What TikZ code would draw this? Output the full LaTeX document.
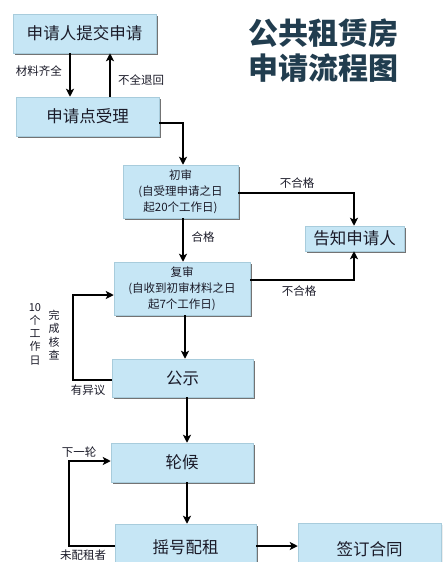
\documentclass[tikz,border=0pt]{standalone}
\usepackage{fontspec}
\setmainfont{Noto Sans CJK SC}
\usetikzlibrary{arrows.meta,shadows}
\definecolor{boxfill}{HTML}{C6E6F5}
\definecolor{boxedge}{HTML}{A8CCDC}
\definecolor{txt}{HTML}{1A1A28}
\definecolor{ttl}{HTML}{213D4F}
\begin{document}
\begin{tikzpicture}[x=1pt,y=1pt,
  box/.style={fill=boxfill,draw=boxedge,line width=0.5pt,inner sep=0pt,align=center,text=txt,
    drop shadow={shadow xshift=1.6pt,shadow yshift=-1.6pt,fill=black!55,opacity=1}},
  big/.style={font=\fontsize{16.5}{18}\selectfont},
  small/.style={font=\fontsize{11.5}{16}\selectfont},
  lab/.style={font=\fontsize{11.5}{13}\selectfont,text=txt,inner sep=0pt},
  arr/.style={line width=1.8pt,-{Stealth[length=8pt,width=8pt,inset=2pt]}}]
\useasboundingbox (0,0) rectangle (442,-562);
\clip (0,0) rectangle (442,-562);
\fill[white] (0,0) rectangle (442,-562);
% title
\node[font=\fontsize{30}{35}\selectfont\bfseries,text=ttl,align=center,inner sep=0pt] (title) at (323,-51) {公共租赁房\\申请流程图};
% boxes
\node[box,big,minimum width=143pt,minimum height=39pt] (b1) at (84.5,-33.5) {申请人提交申请};
\node[box,big,minimum width=143pt,minimum height=39pt] (b2) at (87.5,-116.5) {申请点受理};
\node[box,small,minimum width=115pt,minimum height=53pt] (b3) at (180.5,-191.5) {初审\\(自受理申请之日\\起20个工作日)};
\node[box,big,minimum width=99pt,minimum height=25pt] (b6) at (354.5,-238.5) {告知申请人};
\node[box,small,minimum width=136pt,minimum height=53pt] (b4) at (182,-288.5) {复审\\(自收到初审材料之日\\起7个工作日)};
\node[box,big,minimum width=141pt,minimum height=38pt] (b5) at (182.5,-378) {公示};
\node[box,big,minimum width=142pt,minimum height=39pt] (b7) at (182,-462.5) {轮候};
\node[box,big,minimum width=141pt,minimum height=46pt] (b8) at (185.5,-547) {摇号配租};
\node[box,big,minimum width=143pt,minimum height=52pt] (b9) at (369.5,-549) {签订合同};
% column coordinates
\coordinate (c70) at (70,0);
\coordinate (c110) at (110,0);
\coordinate (c183) at (183,0);
\coordinate (c185) at (185,0);
\coordinate (c187) at (187,0);
\coordinate (c354) at (354,0);
\coordinate (r123) at (0,-123);
\coordinate (r193) at (0,-193);
\coordinate (r280) at (0,-280);
\coordinate (r295) at (0,-295);
\coordinate (r380) at (0,-380);
\coordinate (r461) at (0,-461);
\coordinate (r546) at (0,-546);
\coordinate (k73) at (73,-380);
\coordinate (k69) at (69,-546);
% connectors
\draw[arr] (b1.south -| c70) -- (b2.north -| c70);
\draw[arr] (b2.north -| c110) -- (b1.south -| c110);
\draw[arr] (b2.east |- r123) -| (b3.north -| c183);
\draw[arr] (b3.east |- r193) -| (b6.north -| c354);
\draw[arr] (b3.south -| c183) -- (b4.north -| c183);
\draw[arr] (b4.east |- r280) -| (b6.south -| c354);
\draw[arr] (b4.south -| c185) -- (b5.north -| c185);
\draw[arr] (b5.west |- r380) -- (k73) |- (b4.west |- r295);
\draw[arr] (b5.south -| c187) -- (b7.north -| c187);
\draw[arr] (b7.south -| c187) -- (b8.north -| c187);
\draw[arr] (b8.east |- r546) -- (b9.west |- r546);
\draw[arr] (b8.west |- r546) -- (k69) |- (b7.west |- r461);
% labels
\node[lab] (l1) at (39,-71) {材料齐全};
\node[lab] (l2) at (141,-80) {不全退回};
\node[lab] (l3) at (297,-183) {不合格};
\node[lab] (l4) at (203,-237) {合格};
\node[lab] (l5) at (299,-291) {不合格};
\node[lab] (l6) at (88,-390) {有异议};
\node[lab,align=center,font=\fontsize{11}{13.2}\selectfont] (l7) at (35,-334) {10\\个\\工\\作\\日};
\node[lab,align=center,font=\fontsize{11}{13.5}\selectfont] (l8) at (54,-335) {完\\成\\核\\查};
\node[lab] (l9) at (79,-452) {下一轮};
\node[lab] (l10) at (83,-555) {未配租者};
\end{tikzpicture}
\end{document}
